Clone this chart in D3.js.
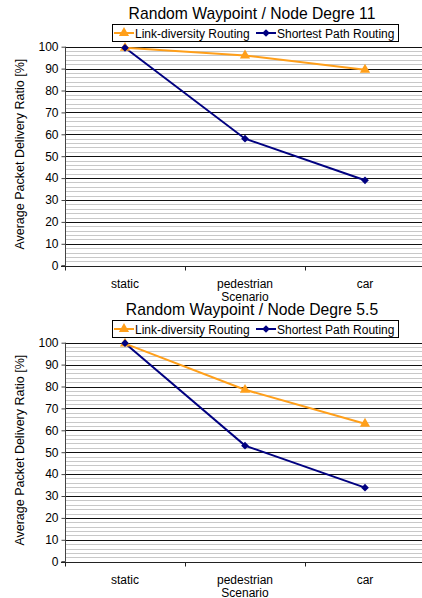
<!DOCTYPE html>
<html><head><meta charset="utf-8">
<script src="https://cdn.jsdelivr.net/npm/d3@7"></script>
<style>
html,body{margin:0;padding:0;background:#fff;}
svg{display:block;font-family:"Liberation Sans",Arial,sans-serif;}
</style></head>
<body>
<svg id="c" width="422" height="598"></svg>
<script>
const categories = ["static", "pedestrian", "car"];
const seriesNames = ["Link-diversity Routing", "Shortest Path Routing"];
const titles = ["Random Waypoint / Node Degre 11", "Random Waypoint / Node Degre 5.5"];
const linkDiversity11 = [99.5, 96, 89.5];
const shortestPath11 = [99.5, 58, 39];
const linkDiversity55 = [99.6, 78.5, 63];
const shortestPath55 = [99.8, 53, 33.8];
const yTicks = [0, 10, 20, 30, 40, 50, 60, 70, 80, 90, 100];
const xTitle = "Scenario";
const yTitle = "Average Packet Delivery Ratio [%]";

const colors = ["#FF9F1A", "#000080"];
const svg = d3.select("#c");

function drawChart(offY, title, s1, s2) {
  const g = svg.append("g").attr("transform", `translate(0,${offY})`);
  const x = d3.scaleBand().domain(categories).range([65, 425]);
  const y = d3.scaleLinear().domain([0, 100]).range([265.7, 46.7]);

  // minor grid
  g.append("g").selectAll("line").data(d3.range(0, 101, 2).filter(v => v % 10 !== 0))
    .join("line").attr("x1", 65).attr("x2", 422)
    .attr("y1", d => Math.round(y(d)) + 0.5).attr("y2", d => Math.round(y(d)) + 0.5)
    .attr("stroke", "#c8c8c8").attr("stroke-width", 1);
  // major grid
  g.append("g").selectAll("line").data(yTicks.filter(v => v > 0))
    .join("line").attr("x1", 65).attr("x2", 422)
    .attr("y1", d => Math.round(y(d)) + 0.5).attr("y2", d => Math.round(y(d)) + 0.5)
    .attr("stroke", "#111").attr("stroke-width", 1);

  // y axis
  const ya = g.append("g").attr("transform", "translate(65.5,0)")
    .call(d3.axisLeft(y).tickValues(yTicks).tickSize(4).tickPadding(3));
  ya.select(".domain").attr("stroke", "#444").attr("d", `M-4,${y(0)}H0V${y(100)}`);
  ya.selectAll(".tick line").attr("stroke", "#444");
  ya.selectAll("text").attr("font-size", 12).attr("font-family", "Liberation Sans, Arial, sans-serif").attr("fill", "#000");

  // x axis
  const bottom = Math.round(y(0)) + 0.5;
  g.append("line").attr("x1", 61).attr("x2", 422).attr("y1", bottom).attr("y2", bottom).attr("stroke", "#222");
  g.append("g").selectAll("line").data(categories)
    .join("line").attr("x1", d => x(d) + 0.5).attr("x2", d => x(d) + 0.5)
    .attr("y1", bottom).attr("y2", bottom + 4).attr("stroke", "#222");
  g.append("g").selectAll("text").data(categories)
    .join("text").attr("x", d => x(d) + x.bandwidth() / 2).attr("y", 288)
    .attr("text-anchor", "middle").attr("font-size", 12).text(d => d);
  g.append("text").attr("x", 245).attr("y", 300.5).attr("text-anchor", "middle")
    .attr("font-size", 12).text(xTitle);
  g.append("text").attr("transform", `translate(24,${(y(0) + y(100)) / 2 - 2}) rotate(-90)`)
    .attr("text-anchor", "middle").attr("font-size", 12.5).text(yTitle);

  // title
  g.append("text").attr("x", 252).attr("y", 18.5).attr("text-anchor", "middle")
    .attr("font-size", 15.7).text(title);

  // lines
  const line = d3.line().x((d, i) => x(categories[i]) + x.bandwidth() / 2).y(d => y(d));
  [s1, s2].forEach((s, k) => {
    g.append("path").datum(s).attr("d", line).attr("fill", "none")
      .attr("stroke", colors[k]).attr("stroke-width", 2);
  });
  const tri = d3.symbol().type(d3.symbolTriangle).size(45);
  const sq = d3.symbol().type(d3.symbolSquare).size(30);
  g.append("g").selectAll("path").data(s1).join("path")
    .attr("transform", (d, i) => `translate(${x(categories[i]) + x.bandwidth() / 2},${y(d)})`)
    .attr("d", tri).attr("fill", colors[0]);
  g.append("g").selectAll("path").data(s2).join("path")
    .attr("transform", (d, i) => `translate(${x(categories[i]) + x.bandwidth() / 2},${y(d)}) rotate(45)`)
    .attr("d", sq).attr("fill", colors[1]);

  // legend
  const lg = g.append("g");
  lg.append("rect").attr("x", 112.5).attr("y", 24.5).attr("width", 286).attr("height", 17)
    .attr("fill", "#fff").attr("stroke", "#000");
  const lx = [114, 256];
  seriesNames.forEach((n, k) => {
    lg.append("line").attr("x1", lx[k]).attr("x2", lx[k] + 20).attr("y1", 33).attr("y2", 33)
      .attr("stroke", colors[k]).attr("stroke-width", 2);
    lg.append("path").attr("transform", `translate(${lx[k] + 10},33)` + (k === 1 ? " rotate(45)" : ""))
      .attr("d", k === 0 ? tri : sq).attr("fill", colors[k]);
    lg.append("text").attr("x", lx[k] + 21).attr("y", 37.5).attr("font-size", 12).text(n);
  });
}

drawChart(0, titles[0], linkDiversity11, shortestPath11);
drawChart(296, titles[1], linkDiversity55, shortestPath55);
</script>
</body></html>
